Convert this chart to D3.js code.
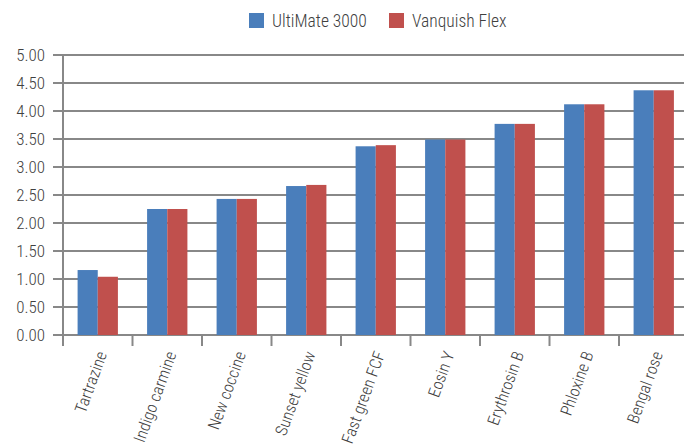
<!DOCTYPE html>
<html><head><meta charset="utf-8">
<script src="https://cdn.jsdelivr.net/npm/d3@7"></script>
<style>
body{margin:0;background:#fff;}
text{font-family:"Roboto Condensed","Liberation Sans Narrow","Arial Narrow",sans-serif;font-weight:300;fill:#404040;}
</style></head><body>
<svg id="c" width="684" height="445"></svg>
<script>
const categories = ["Tartrazine","Indigo carmine","New coccine","Sunset yellow","Fast green FCF","Eosin Y","Erythrosin B","Phloxine B","Bengal rose"];
const seriesNames = ["UltiMate 3000","Vanquish Flex"];
const ultimate = [1.16,2.25,2.43,2.66,3.37,3.49,3.77,4.12,4.37];
const vanquish = [1.04,2.25,2.43,2.68,3.39,3.49,3.77,4.12,4.37];
const yTicks = [0,0.5,1,1.5,2,2.5,3,3.5,4,4.5,5];
const colors = ["#4a7ebb","#c0504d"];

const svg = d3.select("#c");
const x0 = 63, x1 = 688.5, yTop = 55, yBot = 335;
const x = d3.scaleBand().domain(categories).range([x0,x1]).paddingInner(0.42).paddingOuter(0.21);
const xs = d3.scaleBand().domain(seriesNames).range([0,x.bandwidth()]);
const y = d3.scaleLinear().domain([0,5]).range([yBot,yTop]);

// gridlines
svg.append("g").selectAll("line").data(yTicks).join("line")
  .attr("x1",53).attr("x2",684).attr("y1",d=>y(d)).attr("y2",d=>y(d))
  .attr("stroke","#888").attr("stroke-width",2);

// y labels
svg.append("g").selectAll("text").data(yTicks).join("text")
  .attr("x",45).attr("y",d=>y(d)).attr("dy","0.35em").attr("text-anchor","end")
  .attr("font-size",17).text(d=>d.toFixed(2));

// bars
const data = categories.map((c,i)=>({c, vals:[ultimate[i],vanquish[i]]}));
const g = svg.append("g").selectAll("g").data(data).join("g")
  .attr("transform",d=>`translate(${x(d.c)},0)`);
g.selectAll("rect").data(d=>d.vals.map((v,j)=>({v,s:seriesNames[j],j}))).join("rect")
  .attr("x",d=>xs(d.s)).attr("width",xs.bandwidth())
  .attr("y",d=>y(d.v)).attr("height",d=>yBot-y(d.v))
  .attr("fill",d=>colors[d.j]);

// y axis line
svg.append("line").attr("x1",x0).attr("x2",x0).attr("y1",yTop).attr("y2",346)
  .attr("stroke","#888").attr("stroke-width",2);

// x tick marks at band boundaries
const step = x.step();
const bounds = categories.map((c,i)=>x0+i*step).slice(1);
svg.append("g").selectAll("line").data(bounds).join("line")
  .attr("x1",d=>d).attr("x2",d=>d).attr("y1",yBot).attr("y2",346)
  .attr("stroke","#888").attr("stroke-width",2);

// x labels
svg.append("g").selectAll("text").data(categories).join("text")
  .attr("text-anchor","end").attr("font-size",16.5)
  .attr("transform",d=>`translate(${x(d)+x.bandwidth()/2+4},352) rotate(-70)`)
  .attr("dy","0.35em")
  .text(d=>d);

// legend
const leg = svg.append("g");
const lx = [249,389];
seriesNames.forEach((s,i)=>{
  leg.append("rect").attr("x",lx[i]).attr("y",13).attr("width",15).attr("height",15).attr("fill",colors[i]);
  leg.append("text").attr("x",lx[i]+23).attr("y",20.5).attr("dy","0.35em").attr("font-size",17.5).text(s);
});
</script>
</body></html>
